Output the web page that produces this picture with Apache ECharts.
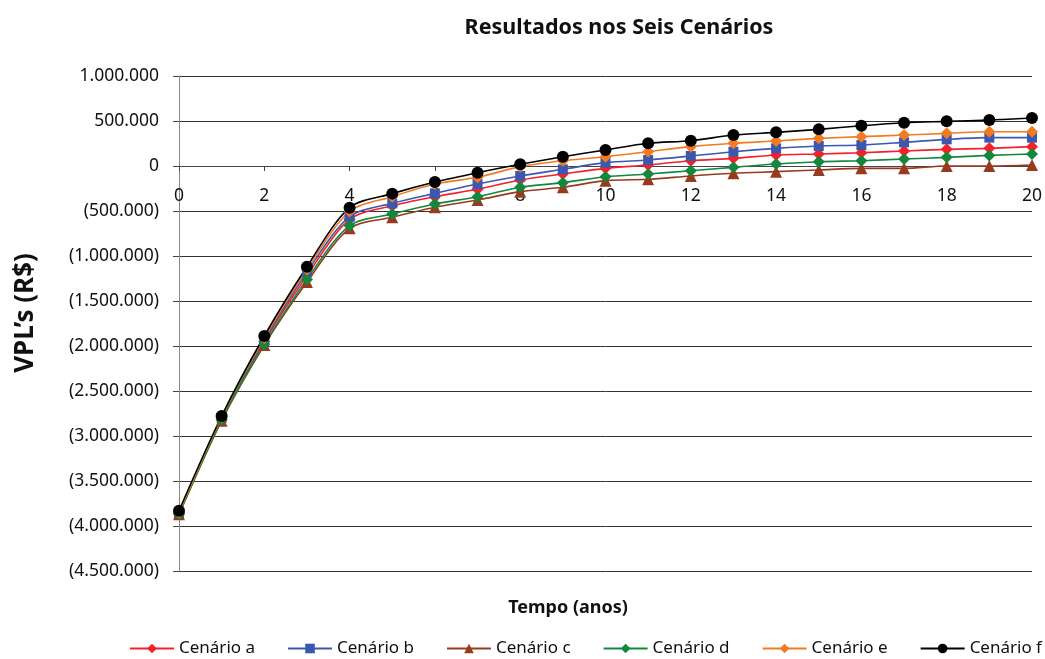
<!DOCTYPE html>
<html>
<head>
<meta charset="utf-8">
<script src="https://cdn.jsdelivr.net/npm/echarts@6/dist/echarts.min.js"></script>
<style>html,body{margin:0;padding:0;background:#fff}#c{width:1045px;height:659px}</style>
</head>
<body>
<div id="c"></div>
<script>
const years = [0,1,2,3,4,5,6,7,8,9,10,11,12,13,14,15,16,17,18,19,20];
const seriesNames = ['Cenário a','Cenário b','Cenário c','Cenário d','Cenário e','Cenário f'];
const cenarioA = [-3860000,-2810000,-1950000,-1220000,-593000,-441000,-341000,-259000,-156000,-89000,-26000,11000,59000,85000,122000,133000,148000,167000,185000,196000,215000];
const cenarioB = [-3860000,-2800000,-1930000,-1180000,-563000,-415000,-304000,-200000,-111000,-37000,37000,67000,111000,159000,196000,222000,233000,263000,296000,315000,315000];
const cenarioC = [-3870000,-2830000,-1990000,-1290000,-693000,-570000,-459000,-378000,-285000,-237000,-163000,-148000,-111000,-81000,-63000,-44000,-26000,-26000,0,0,11000];
const cenarioD = [-3870000,-2820000,-1980000,-1260000,-663000,-533000,-422000,-341000,-237000,-185000,-119000,-89000,-52000,-15000,22000,48000,59000,78000,96000,118000,133000];
const cenarioE = [-3850000,-2790000,-1910000,-1150000,-505000,-341000,-200000,-126000,-7000,59000,103000,159000,215000,252000,278000,307000,326000,344000,363000,381000,381000];
const cenarioF = [-3830000,-2778000,-1889000,-1119000,-463000,-307000,-178000,-74000,19000,103000,178000,252000,281000,344000,374000,407000,448000,481000,496000,511000,533000];
const yTicks = [1000000,500000,0,-500000,-1000000,-1500000,-2000000,-2500000,-3000000,-3500000,-4000000,-4500000];

const allData = [cenarioA,cenarioB,cenarioC,cenarioD,cenarioE,cenarioF];
const colors = ['#f5202a','#3b58b0','#983a1e','#13873c','#f47a22','#000000'];
const symbols = ['diamond','rect','triangle','diamond','diamond','circle'];
const sizes = [12,10,12,12,12,12];

function fmt(v){
  const s = Math.abs(v).toString().replace(/\B(?=(\d{3})+(?!\d))/g,'.');
  return v < 0 ? '(' + s + ')' : s;
}

const FONT = '"Noto Sans", "Open Sans", sans-serif';
const yMin = yTicks[yTicks.length - 1], yMax = yTicks[0];
const gridTop = 76, gridBottom = 88, chartH = 659;
const plotH = chartH - gridTop - gridBottom;
// distance from bottom of plot to the zero line, computed from the axis extent
const zeroOffset = -plotH * (0 - yMin) / (yMax - yMin);

const chart = echarts.init(document.getElementById('c'));
chart.setOption({
  animation: false,
  backgroundColor: '#fff',
  title: [
    {text: 'Resultados nos Seis Cenários', left: 614, top: 12, textAlign: 'center',
     textStyle: {fontFamily: FONT, fontSize: 21.5, fontWeight: 'bold', color: '#111'}},
    {text: 'Tempo (anos)', left: 563, top: 594, textAlign: 'center',
     textStyle: {fontFamily: FONT, fontSize: 18, fontWeight: 'bold', color: '#111'}}
  ],
  graphic: [{
    type: 'text', x: 26, y: 313, rotation: Math.PI / 2,
    style: {text: 'VPL’s (R$)', fontFamily: FONT, fontSize: 26, fontWeight: 'bold',
            fill: '#111', textAlign: 'center', textVerticalAlign: 'middle'}
  }],
  legend: {
    left: 129, top: 640, width: 914, padding: 0, itemWidth: 44, itemHeight: 12, itemGap: 32,
    textStyle: {fontFamily: FONT, fontSize: 17, color: '#111'},
    data: seriesNames
  },
  grid: {left: 179, right: 11, top: gridTop, bottom: gridBottom, containLabel: false},
  xAxis: {
    type: 'value', min: 0, max: 20, interval: 2,
    offset: zeroOffset,
    axisLine: {onZero: false, lineStyle: {color: '#444', width: 1}},
    axisTick: {show: true, length: 5, lineStyle: {color: '#444'}},
    axisLabel: {fontFamily: FONT, fontSize: 17.5, color: '#111', margin: 21},
    splitLine: {show: false}
  },
  yAxis: {
    type: 'value', min: yMin, max: yMax, interval: 500000,
    axisLine: {show: true, onZero: false, lineStyle: {color: '#888', width: 1}},
    axisTick: {show: true, length: 6, lineStyle: {color: '#444'}},
    axisLabel: {fontFamily: FONT, fontSize: 17.5, color: '#111', margin: 20, formatter: fmt},
    splitLine: {show: true, lineStyle: {color: '#333', width: 1}}
  },
  series: allData.map((d, i) => ({
    name: seriesNames[i],
    type: 'line',
    smooth: 0.3,
    data: years.map((y, j) => [y, d[j]]),
    symbol: symbols[i],
    symbolSize: sizes[i],
    itemStyle: {color: colors[i]},
    lineStyle: {color: colors[i], width: 1.6}
  }))
});
</script>
</body>
</html>
